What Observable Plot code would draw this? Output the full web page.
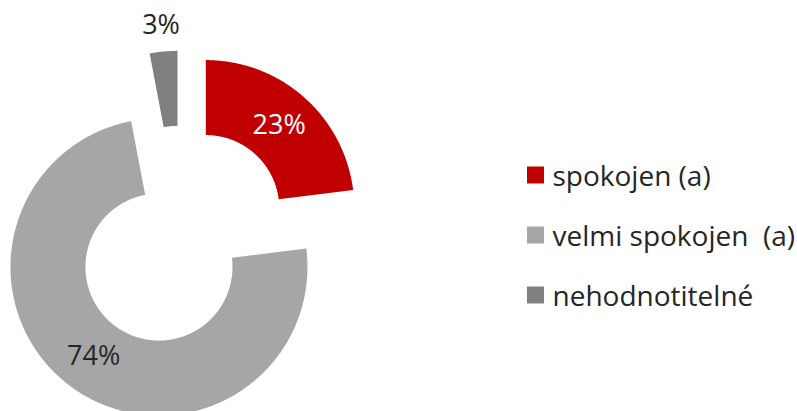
<!DOCTYPE html>
<html><head><meta charset="utf-8">
<script src="https://cdn.jsdelivr.net/npm/d3@7"></script>
<script src="https://cdn.jsdelivr.net/npm/@observablehq/plot@0.6"></script>
<style>body{margin:0;background:#fff;} svg text{font-family:"Open Sans",sans-serif;}</style>
</head><body><div id="chart"></div>
<script>
const categories = ["spokojen (a)", "velmi spokojen  (a)", "nehodnotitelné"];
const values = [23, 74, 3];
const labels = ["23%", "74%", "3%"];
const colors = ["#C00000", "#A6A6A6", "#808080"];

const W = 797, H = 411;
const cx = 180.5, cy = 236.2, R = 148.5, r0 = 73.5, explode = 37.5;
const textColor = "#262626";

const arcs = d3.pie().sort(null).value(d => d.value)(
  categories.map((c, i) => ({category: c, value: values[i], label: labels[i]}))
);

const pts = [];
const labelPts = [];
arcs.forEach(a => {
  const mid = (a.startAngle + a.endAngle) / 2;
  const ox = cx + explode * Math.sin(mid), oy = cy - explode * Math.cos(mid);
  const n = Math.max(8, Math.ceil((a.endAngle - a.startAngle) / 0.01));
  for (let k = 0; k <= n; k++) {
    const t = a.startAngle + (a.endAngle - a.startAngle) * k / n;
    pts.push({category: a.data.category, x: ox + R * Math.sin(t), y: oy - R * Math.cos(t)});
  }
  for (let k = n; k >= 0; k--) {
    const t = a.startAngle + (a.endAngle - a.startAngle) * k / n;
    pts.push({category: a.data.category, x: ox + r0 * Math.sin(t), y: oy - r0 * Math.cos(t)});
  }
  const inside = a.data.value > 5;
  const lr = inside ? (R + r0) / 2 : R + 26;
  const col = colors[categories.indexOf(a.data.category)];
  labelPts.push({
    label: a.data.label,
    x: ox + lr * Math.sin(mid),
    y: oy - lr * Math.cos(mid),
    light: inside && d3.hsl(col).l < 0.5
  });
});

const legendX = 527, legendSize = 17, legendTop = 175, legendStep = 60;
const legend = categories.map((c, i) => ({category: c, y: legendTop + i * legendStep}));

const plot = Plot.plot({
  width: W, height: H,
  margin: 0,
  x: {domain: [0, W], range: [0, W], axis: null},
  y: {domain: [0, H], range: [0, H], axis: null},
  color: {domain: categories, range: colors},
  style: {fontFamily: "'Open Sans', sans-serif", background: "#fff"},
  marks: [
    Plot.line(pts, {x: "x", y: "y", z: "category", fill: "category", stroke: null, curve: "linear-closed"}),
    Plot.text(labelPts.filter(d => d.light), {x: "x", y: "y", text: "label", fill: "#ffffff", fontSize: 27, textAnchor: "middle", lineAnchor: "middle"}),
    Plot.text(labelPts.filter(d => !d.light), {x: "x", y: "y", text: "label", fill: textColor, fontSize: 27, textAnchor: "middle", lineAnchor: "middle"}),
    Plot.rect(legend, {x1: legendX, x2: legendX + legendSize, y1: d => d.y - legendSize / 2, y2: d => d.y + legendSize / 2, fill: "category"}),
    Plot.text(legend, {x: legendX + legendSize + 8, y: d => d.y + 2, text: "category", fill: textColor, fontSize: 28, textAnchor: "start", lineAnchor: "middle"})
  ]
});
document.getElementById("chart").appendChild(plot);
</script>
</body></html>
